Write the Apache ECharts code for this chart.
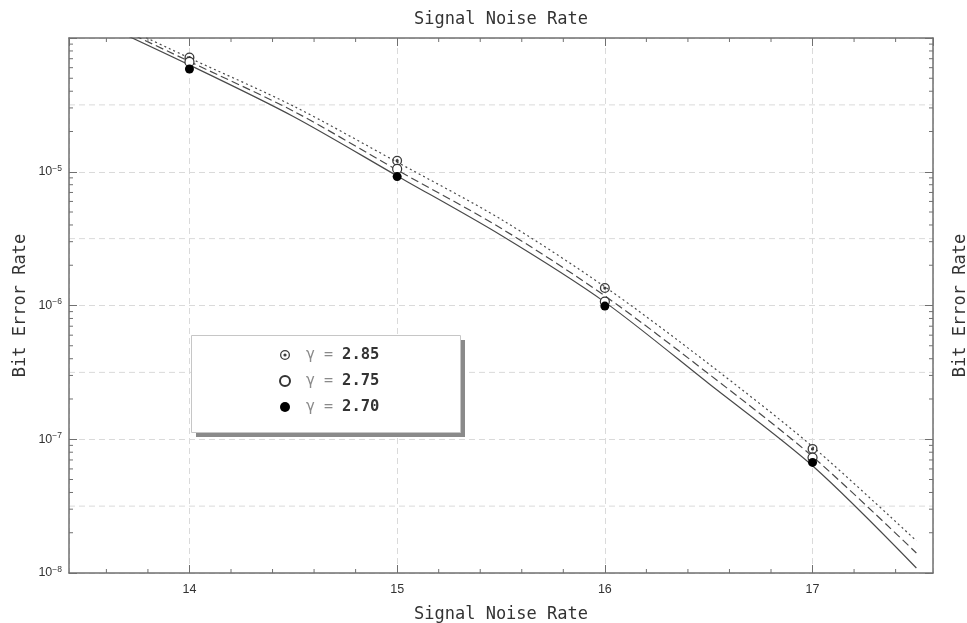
<!DOCTYPE html>
<html>
<head>
<meta charset="utf-8">
<script src="https://cdn.jsdelivr.net/npm/echarts@6/dist/echarts.min.js"></script>
<style>
html,body{margin:0;padding:0;background:#fff;}
#c{width:967px;height:623px;}
</style>
</head>
<body>
<div id="c"></div>
<script>
// ---- data ----
const snrCurve   = [13.42, 14, 14.5, 15, 15.5, 16, 16.5, 17, 17.5];
const ber285Curve = [1.87e-4, 7.09e-5, 3.10e-5, 1.18e-5, 4.41e-6, 1.38e-6, 3.66e-7, 8.81e-8, 1.74e-8];
const ber275Curve = [1.78e-4, 6.67e-5, 2.84e-5, 1.03e-5, 3.78e-6, 1.18e-6, 3.08e-7, 7.43e-8, 1.41e-8];
const ber270Curve = [1.66e-4, 6.28e-5, 2.59e-5, 9.31e-6, 3.35e-6, 1.06e-6, 2.61e-7, 6.33e-8, 1.09e-8];

const snrPoints = [14, 15, 16, 17];
const mark285 = [7.15e-5, 1.21e-5, 1.35e-6, 8.47e-8];
const mark275 = [6.62e-5, 1.05e-5, 1.07e-6, 7.30e-8];
const mark270 = [5.86e-5, 9.20e-6, 9.90e-7, 6.71e-8];

const seriesNames = ['γ = 2.85', 'γ = 2.75', 'γ = 2.70'];

// axis decorations (tick / grid values)
const xMinorTicks = [13.6, 13.8, 14.2, 14.4, 14.6, 14.8, 15.2, 15.4, 15.6, 15.8,
                     16.2, 16.4, 16.6, 16.8, 17.2, 17.4];
const yDecades = [1e-8, 1e-7, 1e-6, 1e-5];
const yMantissas = [2, 3, 4, 5, 6, 7, 8, 9];
const yMinorTicks = [];
yDecades.forEach(d => yMantissas.forEach(m => yMinorTicks.push(m * d)));
const halfDecadeGrid = [3.162e-5, 3.162e-6, 3.162e-7, 3.162e-8];

// ---- chart ----
const X_MIN = 13.42, X_MAX = 17.58, Y_MIN = 1e-8, Y_MAX = 1e-4;
const axisColor = '#707070';
const gridColor = '#dadada';
const MONO = '"DejaVu Sans Mono", "Liberation Mono", monospace';
const SANS = '"Liberation Sans", Arial, sans-serif';
const ringPath = 'path://M10,0A10,10 0 1,1 10,20A10,10 0 1,1 10,0Z M10,2.6A7.4,7.4 0 1,0 10,17.4A7.4,7.4 0 1,0 10,2.6Z M10,6.8A3.2,3.2 0 1,1 10,13.2A3.2,3.2 0 1,1 10,6.8Z';

function pairs(xs, ys) { return xs.map((x, i) => [x, ys[i]]); }

const nameStyle = { fontFamily: MONO, fontSize: 17, color: '#333' };

function baseX(pos) {
  return {
    type: 'value', min: X_MIN, max: X_MAX, splitNumber: 4, position: pos,
    axisLine: { show: true, onZero: false, lineStyle: { color: axisColor, width: 1.5 } },
    axisTick: { show: true, inside: true, length: 8, lineStyle: { color: axisColor, width: 1 } },
    nameLocation: 'middle', nameTextStyle: nameStyle, nameMoveOverlap: false,
    name: 'Signal Noise Rate'
  };
}
function baseY(pos) {
  return {
    type: 'log', logBase: 10, min: Y_MIN, max: Y_MAX, position: pos,
    axisLine: { show: true, onZero: false, lineStyle: { color: axisColor, width: 1.5 } },
    axisTick: { show: true, inside: true, length: 8, lineStyle: { color: axisColor, width: 1 } },
    nameLocation: 'middle', nameTextStyle: nameStyle, nameMoveOverlap: false,
    name: 'Bit Error Rate'
  };
}

const xBottom = Object.assign(baseX('bottom'), {
  nameGap: 33,
  axisLabel: {
    show: true, color: '#333', fontSize: 12.5, fontFamily: SANS, margin: 10,
    showMinLabel: false, showMaxLabel: false,
    formatter: v => (Math.abs(v - Math.round(v)) < 1e-9 ? String(Math.round(v)) : '')
  },
  splitLine: { show: true, lineStyle: { color: gridColor, type: [6, 4], width: 1 } }
});
const xTop = Object.assign(baseX('top'), {
  nameGap: 10,
  axisLabel: { show: false },
  splitLine: { show: false }
});
const yLeft = Object.assign(baseY('left'), {
  nameGap: 40,
  axisLabel: {
    show: true, color: '#333', fontFamily: SANS, margin: 7,
    formatter: v => {
      const e = Math.round(Math.log10(v));
      if (e >= -4) return '';
      return '{b|10}{s|' + String(e).replace('-', '−') + '}';
    },
    rich: {
      b: { fontSize: 12.5, fontFamily: SANS, color: '#333', lineHeight: 16 },
      s: { fontSize: 8.5, fontFamily: SANS, color: '#333', lineHeight: 9, verticalAlign: 'top' }
    }
  },
  splitLine: { show: true, lineStyle: { color: gridColor, type: [6, 4], width: 1 } }
});
const yRight = Object.assign(baseY('right'), {
  nameGap: 19,
  axisLabel: { show: false },
  splitLine: { show: false }
});

function lineSeries(ys, type) {
  return {
    type: 'line', data: pairs(snrCurve, ys), showSymbol: false, symbol: 'none',
    smooth: 0.3, clip: true, silent: true, z: 3,
    lineStyle: { color: '#4a4a4a', width: 1.2, type: type }
  };
}
function scatterSeries(name, ys, symbol, style, size) {
  return {
    type: 'scatter', name: name, data: pairs(snrPoints, ys), symbol: symbol,
    symbolSize: size, itemStyle: Object.assign({ opacity: 1 }, style), z: 5, silent: true
  };
}

const option = {
  animation: false,
  backgroundColor: '#fff',
  grid: { left: 69, right: 34, top: 38, bottom: 50, containLabel: false, outerBoundsMode: 'none' },
  xAxis: [xBottom, xTop],
  yAxis: [yLeft, yRight],
  // legend frame with its drop shadow
  graphic: [
    { type: 'rect', left: 196, top: 340, z: 10, silent: true,
      shape: { width: 269, height: 97 }, style: { fill: '#8a8a8a' } },
    { type: 'rect', left: 191, top: 335, z: 11, silent: true,
      shape: { width: 269, height: 97 }, style: { fill: '#fff', stroke: '#c6c6c6', lineWidth: 1 } }
  ],
  legend: {
    data: seriesNames, z: 20,
    orient: 'vertical', left: 191, top: 335,
    padding: [12, 84, 13, 88],
    itemWidth: 10, itemHeight: 10, itemGap: 10,
    backgroundColor: 'transparent', borderWidth: 0,
    selectedMode: false,
    formatter: name => '{g|γ = }{n|' + name.split(' = ')[1] + '}',
    textStyle: {
      padding: [0, 0, 0, 11],
      rich: {
        g: { fontFamily: MONO, fontSize: 15, color: '#8a8a8a' },
        n: { fontFamily: MONO, fontSize: 15.5, color: '#333', fontWeight: 'bold' }
      }
    }
  },
  series: [
    // half-decade horizontal grid lines
    {
      type: 'custom', silent: true, z: 0, clip: false,
      data: halfDecadeGrid.map(v => [X_MIN, v]),
      renderItem: (params, api) => {
        const cs = params.coordSys;
        const y = api.coord([X_MIN, api.value(1)])[1];
        return { type: 'line', shape: { x1: cs.x, y1: y, x2: cs.x + cs.width, y2: y },
                 style: { stroke: gridColor, lineWidth: 1, lineDash: [6, 4] } };
      }
    },
    lineSeries(ber285Curve, [2, 3]),
    lineSeries(ber275Curve, [8, 4]),
    lineSeries(ber270Curve, 'solid'),
    scatterSeries(seriesNames[0], mark285, ringPath, { color: '#3c3c3c' }, 10),
    scatterSeries(seriesNames[1], mark275, 'circle', { color: '#fff', borderColor: '#333', borderWidth: 1.2 }, 9),
    scatterSeries(seriesNames[2], mark270, 'circle', { color: '#000' }, 9),
    // minor ticks on the y axes (left and right, inside)
    {
      type: 'custom', silent: true, z: 6, clip: false,
      data: yMinorTicks.map(v => [X_MIN, v]),
      renderItem: (params, api) => {
        const cs = params.coordSys;
        const y = api.coord([X_MIN, api.value(1)])[1];
        const st = { stroke: axisColor, lineWidth: 1 };
        return { type: 'group', children: [
          { type: 'line', shape: { x1: cs.x, y1: y, x2: cs.x + 4, y2: y }, style: st },
          { type: 'line', shape: { x1: cs.x + cs.width - 4, y1: y, x2: cs.x + cs.width, y2: y }, style: st }
        ] };
      }
    },
    // minor ticks on the x axes (bottom and top, inside)
    {
      type: 'custom', silent: true, z: 6, clip: false,
      data: xMinorTicks.map(v => [v, 1e-6]),
      renderItem: (params, api) => {
        const cs = params.coordSys;
        const x = api.coord([api.value(0), 1e-6])[0];
        const st = { stroke: axisColor, lineWidth: 1 };
        return { type: 'group', children: [
          { type: 'line', shape: { x1: x, y1: cs.y + cs.height, x2: x, y2: cs.y + cs.height - 4 }, style: st },
          { type: 'line', shape: { x1: x, y1: cs.y, x2: x, y2: cs.y + 4 }, style: st }
        ] };
      }
    }
  ]
};

const chart = echarts.init(document.getElementById('c'), null, { renderer: 'canvas' });
chart.setOption(option);
</script>
</body>
</html>
